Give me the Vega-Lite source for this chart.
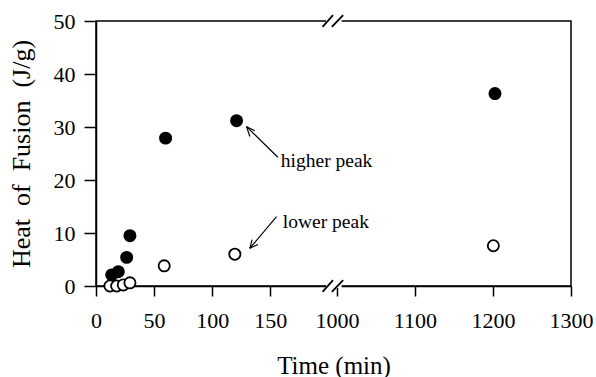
{
  "$schema": "https://vega.github.io/schema/vega-lite/v6.json",
  "autosize": "none",
  "padding": {"left": 96, "top": 21, "right": 25, "bottom": 91},
  "width": 475,
  "height": 265,
  "config": {
    "view": {"stroke": "black", "strokeWidth": 1.5},
    "text": {"font": "Liberation Serif"}
  },
  "datasets": {
    "points": [
      {"time": 13.5, "heat": 2.1, "peak": "higher"},
      {"time": 19.2, "heat": 2.7, "peak": "higher"},
      {"time": 26.4, "heat": 5.4, "peak": "higher"},
      {"time": 29.2, "heat": 9.5, "peak": "higher"},
      {"time": 59.9, "heat": 27.9, "peak": "higher"},
      {"time": 121, "heat": 31.2, "peak": "higher"},
      {"time": 1202.6, "heat": 36.3, "peak": "higher"},
      {"time": 12, "heat": 0, "peak": "lower"},
      {"time": 17.8, "heat": 0, "peak": "lower"},
      {"time": 23.5, "heat": 0.2, "peak": "lower"},
      {"time": 29.2, "heat": 0.6, "peak": "lower"},
      {"time": 58.7, "heat": 3.8, "peak": "lower"},
      {"time": 119.5, "heat": 6.0, "peak": "lower"},
      {"time": 1200.5, "heat": 7.6, "peak": "lower"}
    ],
    "masks": [
      {"x": 198, "x2": 1006, "y": 0},
      {"x": 198, "x2": 1006, "y": 50}
    ],
    "slashes": [
      {"x": 195, "x2": 204, "y": -1.1, "y2": 1.1},
      {"x": 203, "x2": 1008, "y": -1.1, "y2": 1.1},
      {"x": 195, "x2": 204, "y": 48.9, "y2": 51.1},
      {"x": 203, "x2": 1008, "y": 48.9, "y2": 51.1}
    ],
    "arrows": [
      {"x": 129.6, "y": 30.06, "x2": 156.5, "y2": 24.3},
      {"x": 129.6, "y": 30.06, "x2": 132.4, "y2": 28.2},
      {"x": 129.6, "y": 30.06, "x2": 136.7, "y2": 29.3},
      {"x": 132.4, "y": 7.11, "x2": 155.4, "y2": 13.08},
      {"x": 132.4, "y": 7.11, "x2": 139.4, "y2": 7.83},
      {"x": 132.4, "y": 7.11, "x2": 134.4, "y2": 8.75}
    ],
    "labels": [
      {"x": 159.1, "y": 23.6, "text": "higher peak"},
      {"x": 160.8, "y": 12.1, "text": "lower peak"}
    ]
  },
  "layer": [
    {
      "data": {"name": "points"},
      "mark": {"type": "point", "shape": "circle", "size": 125, "stroke": "black", "strokeWidth": 1.8, "opacity": 1},
      "encoding": {
        "x": {
          "field": "time", "type": "quantitative",
          "scale": {"domain": [0, 204, 995, 1300], "range": [0, 237, 237, 475], "nice": false, "zero": false},
          "axis": {
            "title": "Time (min)",
            "values": [0, 25, 50, 75, 100, 125, 150, 175, 1000, 1050, 1100, 1150, 1200, 1250, 1300],
            "labelExpr": "((datum.value < 500 && datum.value % 50 == 0) || (datum.value >= 500 && datum.value % 100 == 0)) ? ('' + datum.value) : ''",
            "tickSize": {"condition": {"test": "(datum.value < 500 && datum.value % 50 == 0) || (datum.value >= 500 && datum.value % 100 == 0)", "value": 10}, "value": 5},
            "domainColor": "black", "domainWidth": 1.5,
            "tickColor": "black", "tickWidth": 1.5,
            "labelColor": "black", "labelFont": "Liberation Serif", "labelFontSize": 22,
            "titleColor": "black", "titleFont": "Liberation Serif", "titleFontSize": 25, "titleFontWeight": "normal",
            "grid": false,
            "labelPadding": 14,
            "titlePadding": 22,
            "labelFlush": false,
            "labelOverlap": false
          }
        },
        "y": {
          "field": "heat", "type": "quantitative",
          "scale": {"domain": [0, 50], "nice": false},
          "axis": {
            "title": "Heat\u00a0\u00a0of\u00a0\u00a0Fusion\u00a0\u00a0(J/g)",
            "values": [0, 5, 10, 15, 20, 25, 30, 35, 40, 45, 50],
            "labelExpr": "datum.value % 10 == 0 ? datum.label : ''",
            "tickSize": {"condition": {"test": "datum.value % 10 == 0", "value": 12}, "value": 5},
            "domainColor": "black", "domainWidth": 1.5,
            "tickColor": "black", "tickWidth": 1.5,
            "labelColor": "black", "labelFont": "Liberation Serif", "labelFontSize": 22,
            "titleColor": "black", "titleFont": "Liberation Serif", "titleFontSize": 26, "titleFontWeight": "normal",
            "grid": false,
            "labelPadding": 9,
            "titlePadding": 19,
            "labelFlush": false,
            "labelOverlap": false
          }
        },
        "fill": {
          "field": "peak", "type": "nominal",
          "scale": {"domain": ["higher", "lower"], "range": ["black", "white"]},
          "legend": null
        }
      }
    },
    {
      "data": {"name": "masks"},
      "mark": {"type": "rule", "color": "white", "strokeWidth": 4},
      "encoding": {
        "x": {"field": "x", "type": "quantitative"},
        "x2": {"field": "x2"},
        "y": {"field": "y", "type": "quantitative"}
      }
    },
    {
      "data": {"name": "slashes"},
      "mark": {"type": "rule", "color": "black", "strokeWidth": 1.8},
      "encoding": {
        "x": {"field": "x", "type": "quantitative"},
        "x2": {"field": "x2"},
        "y": {"field": "y", "type": "quantitative"},
        "y2": {"field": "y2"}
      }
    },
    {
      "data": {"name": "arrows"},
      "mark": {"type": "rule", "color": "black", "strokeWidth": 1.2},
      "encoding": {
        "x": {"field": "x", "type": "quantitative"},
        "x2": {"field": "x2"},
        "y": {"field": "y", "type": "quantitative"},
        "y2": {"field": "y2"}
      }
    },
    {
      "data": {"name": "labels"},
      "mark": {"type": "text", "align": "left", "baseline": "middle", "fontSize": 19.5, "color": "black"},
      "encoding": {
        "x": {"field": "x", "type": "quantitative"},
        "y": {"field": "y", "type": "quantitative"},
        "text": {"field": "text"}
      }
    }
  ]
}
